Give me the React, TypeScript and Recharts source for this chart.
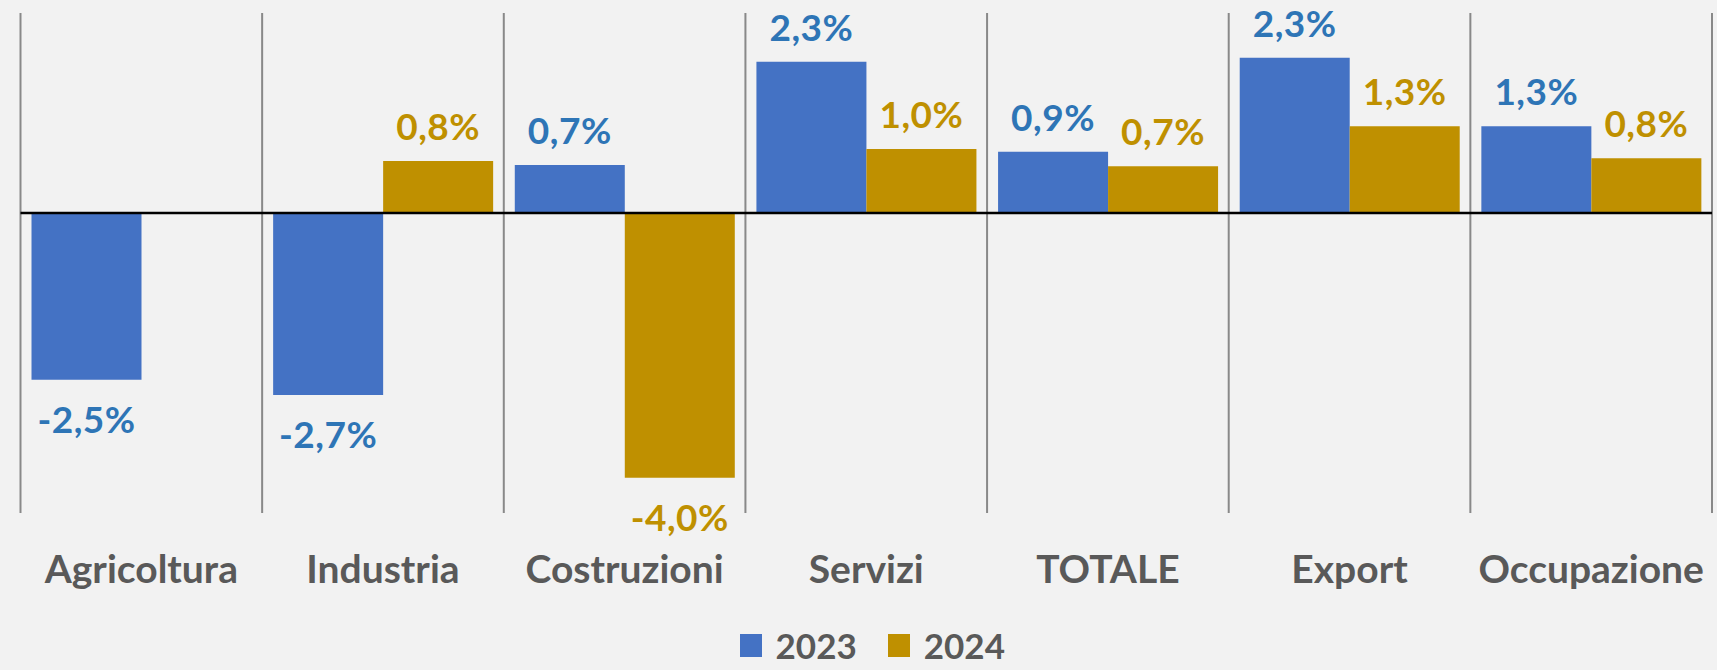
import {
  BarChart,
  Bar,
  XAxis,
  YAxis,
  CartesianGrid,
  ReferenceLine,
  LabelList,
  Legend,
} from "recharts";

const categories = [
  "Agricoltura",
  "Industria",
  "Costruzioni",
  "Servizi",
  "TOTALE",
  "Export",
  "Occupazione",
];
const values2023 = [-2.5, -2.73, 0.72, 2.27, 0.92, 2.33, 1.3];
const values2024 = [0.0, 0.78, -3.97, 0.96, 0.7, 1.3, 0.82];
const seriesNames = ["2023", "2024"];
// category boundaries (Excel draws the gridlines between categories)
const boundaries = [0, 1, 2, 3, 4, 5, 6, 7];

const BLUE = "#4472C4";
const BLUE_TEXT = "#2E75B6";
const GOLD = "#BF9000";
const GREY_TEXT = "#595959";
const FONT = "Lato, 'Open Sans', sans-serif";

const data = categories.map((name, i) => ({
  name,
  y2023: values2023[i],
  y2024: values2024[i],
}));

function fmt(v: number) {
  return v.toFixed(1).replace(".", ",") + "%";
}

function ValueLabel(props: any) {
  const { x, y, width, height, value, color } = props;
  const v = Number(value);
  const top = Math.min(y, y + height);
  const bottom = Math.max(y, y + height);
  const ty = v > 0 ? top - 21 : bottom + 53;
  return (
    <text
      x={x + width / 2}
      y={ty}
      textAnchor="middle"
      fill={color}
      fontSize={37}
      fontWeight={700}
      fontFamily={FONT}
      letterSpacing={0.5}
    >
      {fmt(v)}
    </text>
  );
}

function CategoryTick(props: any) {
  const { x, y, payload } = props;
  return (
    <text
      x={x}
      y={y + 70}
      textAnchor="middle"
      fill={GREY_TEXT}
      fontSize={39}
      fontWeight={700}
      fontFamily={FONT}
    >
      {payload.value}
    </text>
  );
}

function LegendBox() {
  const colors = [BLUE, GOLD];
  return (
    <div
      style={{
        height: 60,
        paddingTop: 10,
        boxSizing: "border-box",
        display: "flex",
        justifyContent: "center",
        alignItems: "center",
        marginLeft: 12,
        fontFamily: FONT,
      }}
    >
      {seriesNames.map((s, i) => (
        <div
          key={s}
          style={{ display: "flex", alignItems: "center", marginLeft: i ? 31 : 0 }}
        >
          <span
            style={{ width: 22, height: 23, background: colors[i], display: "inline-block" }}
          />
          <span
            style={{
              marginLeft: 14,
              fontSize: 35,
              fontWeight: 700,
              color: GREY_TEXT,
              lineHeight: 1,
            }}
          >
            {s}
          </span>
        </div>
      ))}
    </div>
  );
}

export default function App() {
  return (
    <div
      style={{
        position: "absolute",
        left: 0,
        top: 0,
        width: 1717,
        height: 670,
        background: "#F2F2F2",
      }}
    >
      <BarChart
        width={1717}
        height={670}
        data={data}
        margin={{ top: 13, right: 5, left: 20.5, bottom: 0 }}
        barCategoryGap={11}
        barGap={0}
      >
        <CartesianGrid
          horizontal={false}
          stroke="#898989"
          strokeWidth={2}
          verticalCoordinatesGenerator={({ offset }: any) =>
            boundaries.map((b) => offset.left + (b * offset.width) / categories.length)
          }
        />
        <XAxis
          dataKey="name"
          height={97}
          axisLine={false}
          tickLine={false}
          tickSize={0}
          tickMargin={0}
          interval={0}
          tick={<CategoryTick />}
        />
        <YAxis
          hide
          type="number"
          domain={[-4.5, 3]}
          allowDataOverflow
          ticks={[-4.5, -3, -1.5, 0, 1.5, 3]}
        />
        <Legend verticalAlign="bottom" content={() => <LegendBox />} />
        <Bar dataKey="y2023" name="2023" fill={BLUE} isAnimationActive={false}>
          <LabelList
            dataKey="y2023"
            content={(p: any) => <ValueLabel {...p} color={BLUE_TEXT} />}
          />
        </Bar>
        <Bar dataKey="y2024" name="2024" fill={GOLD} isAnimationActive={false}>
          <LabelList
            dataKey="y2024"
            content={(p: any) => <ValueLabel {...p} color={GOLD} />}
          />
        </Bar>
        <ReferenceLine y={0} stroke="#000000" strokeWidth={2.5} />
      </BarChart>
    </div>
  );
}
